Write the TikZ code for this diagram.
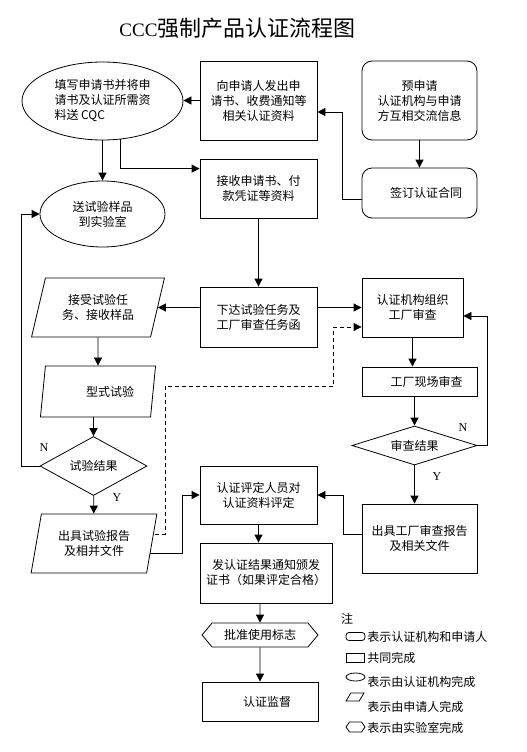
\documentclass[tikz,border=0pt]{standalone}
\usepackage{fontspec}
\setmainfont{Liberation Serif}
\newfontfamily\cjk{Noto Sans CJK SC}
\usetikzlibrary{shapes.geometric,shapes.symbols,arrows.meta,calc}
\begin{document}
\begin{tikzpicture}[x=1pt,y=-1pt,line width=0.8pt]
			\tikzset{
					zi/.style={font=\cjk\fontsize{12}{15}\selectfont,align=center,inner sep=0pt},
					kuang/.style={zi,draw,rectangle},
					yuan/.style={zi,draw,rounded corners=10pt},
					tuo/.style={zi,draw,ellipse},
					ping/.style={zi,draw,trapezium,trapezium left angle=70,trapezium right angle=110,trapezium stretches=true},
					ling/.style={zi,draw,diamond,aspect=2},
					liu/.style={zi,draw,signal,signal to=east and west,signal pointer angle=100},
					yn/.style={font=\fontsize{12}{14}\selectfont,inner sep=0pt},
					jt/.style={-{Triangle[length=8pt,width=8pt]}}
			}
			\useasboundingbox(0,0)rectangle(527,752);
			\node[inner sep=0pt](title)at(237.5,28){\fontsize{19}{24}\selectfont CCC{\cjk\fontsize{22}{24}\selectfont 强制产品认证流程图}};
			\node[tuo,minimum width=161,minimum height=78,align=left](fill)at(102.5,101){填写申请书并将申\\请书及认证所需资\\料送 CQC};
			\node[kuang,minimum width=117,minimum height=79](issue)at(258.5,100.5){向申请人发出申\\请书、收费通知等\\相关认证资料};
			\node[yuan,minimum width=115,minimum height=79](pre)at(419.5,100.5){预申请\\认证机构与申请\\方互相交流信息};
			\node[yuan,minimum width=115,minimum height=50](sign)at(419.5,193){\hspace*{13pt}签订认证合同};
			\node[kuang,minimum width=117,minimum height=59](recv)at(258.5,188.5){接收申请书、付\\款凭证等资料};
			\node[tuo,minimum width=125,minimum height=66](send)at(102.5,214){送试验样品\\到实验室};
			\node[kuang,minimum width=117,minimum height=60](task)at(258.5,317){下达试验任务及\\工厂审查任务函};
			\node[ping,minimum width=134,minimum height=59](accept)at(98,307.5){接受试验任\\务、接收样品};
			\node[kuang,minimum width=101,minimum height=59](org)at(412.5,307.5){认证机构组织\\工厂审查};
			\node[ping,minimum width=116,minimum height=51,trapezium left angle=73,trapezium right angle=107](type)at(98,391.5){\hspace*{24pt}型式试验};
			\node[ling,minimum width=107,minimum height=59](tres)at(93.5,466){试验结果};
			\node[ping,minimum width=126,minimum height=59,trapezium left angle=75,trapezium right angle=105](report)at(94,543.5){出具试验报告\\及相并文件};
			\node[kuang,minimum width=115,minimum height=29](site)at(419.5,381.5){\hspace*{14pt}工厂现场审查};
			\node[ling,minimum width=125,minimum height=39](ares)at(414.5,445.5){审查结果};
			\node[kuang,minimum width=115,minimum height=69](frep)at(419.5,538.5){出具工厂审查报告\\及相关文件};
			\node[kuang,minimum width=117,minimum height=58](eval)at(258.5,495){认证评定人员对\\认证资料评定};
			\node[kuang,minimum width=132,minimum height=60](cert)at(266,573){发认证结果通知颁发\\证书（如果评定合格）};
			\node[liu,minimum width=116,minimum height=24](mark)at(260,635){批准使用标志};
			\node[kuang,minimum width=116,minimum height=39](superv)at(260,701.5){\hspace*{14pt}认证监督};
			\node[yn](n1)at(44,448){N};
			\node[yn](y1)at(117,498){Y};
			\node[yn](n2)at(463,428){N};
			\node[yn](y2)at(437,477){Y};
			\draw[jt](issue.west)--(issue.west-|fill.east);
			\draw[jt]($(sign.west)+(0,6)$)--++(-19,0)|-($(issue.east)+(0,11.5)$);
			\draw[jt](pre)--(sign);
			\draw[jt](fill)--(send);
			\draw[jt](fill.-65)|-($(recv.north west)+(0,10)$);
			\draw[jt](recv)--(task);
			\draw[jt](task.west|-accept)--(accept);
			\draw[jt](task.east|-org)--(org);
			\draw[jt](accept)--(type);
			\draw[jt](type.south-|tres)--(tres);
			\draw[jt](tres)--(report);
			\draw[jt](tres.west)--++(-18,0)|-(send.west);
			\draw[jt,dash pattern=on 4pt off 3pt]($(report.east)+(2.5,-9.5)$)-|(165,386)-|($(org.west)+(-28,19.5)$)--($(org.west)+(0,19.5)$);
			\draw[jt]($(report.east)+(-2.5,9.5)$)-|($(eval.west)+(-17,0)$)--(eval.west);
			\draw[jt](org.south)--(org.south|-site.north);
			\draw[jt](site.south-|ares)--(ares);
			\draw[jt](ares)--(ares.south|-frep.north);
			\draw[jt](ares.east)--++(10,0)|-($(org.east)+(0,8.5)$);
			\draw[jt]($(frep.west)+(0,-4.5)$)-|($(eval.east)+(26,0)$)--(eval.east);
			\draw[jt](eval)--(eval|-cert.north);
			\draw[jt](mark.north|-cert.south)--(mark);
			\draw[jt](mark)--(superv);
			\node[zi](zhu)at(347,619){注};
			\node[yuan,rounded corners=3pt,minimum width=19,minimum height=8](l1)at(355.5,636.5){};
			\node[zi,anchor=west](t1)at(367,637){表示认证机构和申请人};
			\node[kuang,minimum width=18,minimum height=9](l2)at(355,657.5){};
			\node[zi,anchor=west](t2)at(367,658){共同完成};
			\node[tuo,minimum width=19,minimum height=8](l3)at(355.5,677){};
			\node[zi,anchor=west](t3)at(367,682){表示由认证机构完成};
			\node[ping,minimum width=18,minimum height=8,trapezium left angle=60,trapezium right angle=120](l4)at(355,697){\rule{2pt}{0pt}\rule{0pt}{2pt}};
			\node[zi,anchor=west](t4)at(367,707){表示由申请人完成};
			\node[liu,minimum width=19,minimum height=10,signal pointer angle=110](l5)at(355.5,727){\rule{2pt}{0pt}\rule{0pt}{2pt}};
			\node[zi,anchor=west](t5)at(367,728){表示由实验室完成};
	\end{tikzpicture}
\end{document}
